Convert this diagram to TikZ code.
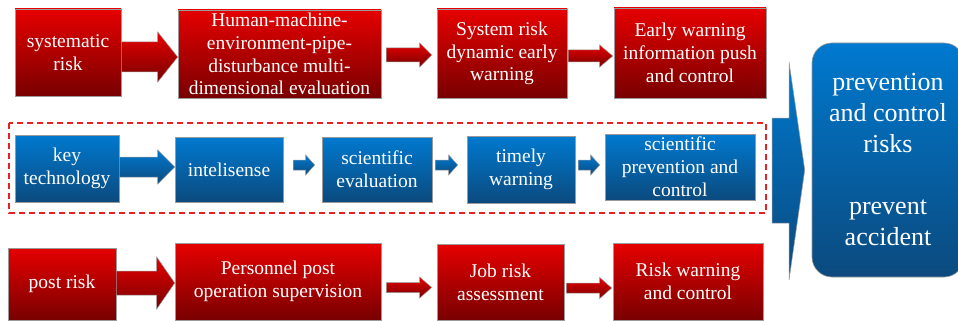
\documentclass[tikz,border=0pt]{standalone}
\usepackage{fontspec}
\setmainfont{Liberation Serif}
\newfontfamily\tnr{Liberation Serif}
\usetikzlibrary{calc}
\definecolor{rtop}{HTML}{E60000}
\definecolor{rbot}{HTML}{780000}
\definecolor{btop}{HTML}{0079CF}
\definecolor{bbot}{HTML}{0B4A7E}
\definecolor{edge}{HTML}{9A9A9A}
\definecolor{dashred}{HTML}{E82020}
\begin{document}
\begin{tikzpicture}[x=1pt,y=-1pt,
  box/.style={draw=edge, line width=0.6pt, inner sep=0pt, align=center, text=white,
    font=\tnr\fontsize{19.5}{22.8}\selectfont},
  redbox/.style={box, top color=rtop, bottom color=rbot},
  bluebox/.style={box, top color=btop, bottom color=bbot},
  redarr/.style={draw=edge, line width=0.5pt, top color=rtop, bottom color=rbot},
  bluearr/.style={draw=edge, line width=0.5pt, top color=btop, bottom color=bbot},
  fat/.style n args={5}{to path={let \p1=(\tikztostart), \p2=(\tikztotarget) in
    (\x1+#4,\y1+#1) -- (\x2-#5-#3,\y1+#1) -- (\x2-#5-#3,\y1+#2) -- (\x2-#5,\y1)
    -- (\x2-#5-#3,\y1-#2) -- (\x2-#5-#3,\y1-#1) -- (\x1+#4,\y1-#1) -- cycle}},
]
\fill[white] (0,0) rectangle (958,321);
\useasboundingbox (0,0) rectangle (958,321);

% row 1
\node[redbox, minimum width=106pt, minimum height=87pt] (A1) at (68,52.5) {systematic\\risk};
\node[redbox, minimum width=203pt, minimum height=88pt] (A2) at (279.5,54) {Human-machine-\\environment-pipe-\\disturbance multi-\\dimensional evaluation};
\node[redbox, minimum width=130pt, minimum height=89pt] (A3) at (502,53.5) {System risk\\dynamic early\\warning};
\node[redbox, minimum width=152pt, minimum height=90pt] (A4) at (690,53) {Early warning\\information push\\and control};

\path[redarr] ($(A1.east)+(0,4.5)$) to[fat={15pt}{25pt}{20pt}{0pt}{0pt}] ($(A2.west)+(0,3)$);
\path[redarr] ($(A2.east)+(0,1)$) to[fat={7pt}{12pt}{12pt}{5pt}{5pt}] ($(A3.west)+(0,1.5)$);
\path[redarr] ($(A3.east)+(0,2.5)$) to[fat={6pt}{11pt}{13pt}{1pt}{1pt}] ($(A4.west)+(0,3)$);

% row 2
\draw[dashred, line width=1.4pt, dash pattern=on 6pt off 4pt] (9,123) rectangle (766,213);
\node[bluebox, minimum width=104pt, minimum height=67pt] (B1) at (67,168.5) {key\\technology};
\node[bluebox, minimum width=108pt, minimum height=65pt] (B2) at (229,169.5) {intelisense};
\node[bluebox, minimum width=110pt, minimum height=65pt] (B3) at (377,169.5) {scientific\\evaluation};
\node[bluebox, minimum width=108pt, minimum height=67pt] (B4) at (521,169.5) {timely\\warning};
\node[bluebox, minimum width=150pt, minimum height=66pt] (B5) at (680,167) {scientific\\prevention and\\control};

\path[bluearr] ($(B1.east)+(0,-1.5)$) to[fat={10pt}{17pt}{17pt}{0pt}{0pt}] (B2.west);
\path[bluearr] ($(B2.east)+(0,-4.5)$) to[fat={5pt}{10pt}{9pt}{10pt}{7pt}] (B3.west);
\path[bluearr] ($(B3.east)+(0,-4.5)$) to[fat={5pt}{10pt}{9pt}{3pt}{9pt}] (B4.west);
\path[bluearr] ($(B4.east)+(0,-4.5)$) to[fat={5pt}{10pt}{9pt}{3pt}{5pt}] (B5.west);

% row 3
\node[redbox, minimum width=108pt, minimum height=72pt] (C1) at (62,284) {post risk};
\node[redbox, minimum width=206pt, minimum height=77pt] (C2) at (278,281.5) {Personnel post\\operation supervision};
\node[redbox, minimum width=127pt, minimum height=76pt] (C3) at (500.5,282) {Job risk\\assessment};
\node[redbox, minimum width=150pt, minimum height=77pt] (C4) at (688,281.5) {Risk warning\\and control};

\path[redarr] ($(C1.east)+(0,-1)$) to[fat={12pt}{26pt}{18pt}{0pt}{0pt}] (C2.west);
\path[redarr] ($(C2.east)+(0,6)$) to[fat={5pt}{10.5pt}{12pt}{5pt}{5pt}] (C3.west);
\path[redarr] ($(C3.east)+(0,6)$) to[fat={5pt}{10.5pt}{12pt}{2pt}{1pt}] (C4.west);

% big arrow and result
\node[box, rounded corners=20pt, top color=btop, bottom color=bbot, minimum width=152pt,
  minimum height=234pt, font=\tnr\fontsize{26}{31}\selectfont] (F) at (888,160)
  {prevention\\and control\\risks\\[31pt]prevent\\accident};
\path[bluearr] (772,118) -- (789,118) -- (789,62) -- ($(F.west)+(-7,10)$) -- (789,280) -- (789,223) -- (772,223) -- cycle;
\end{tikzpicture}
\end{document}
